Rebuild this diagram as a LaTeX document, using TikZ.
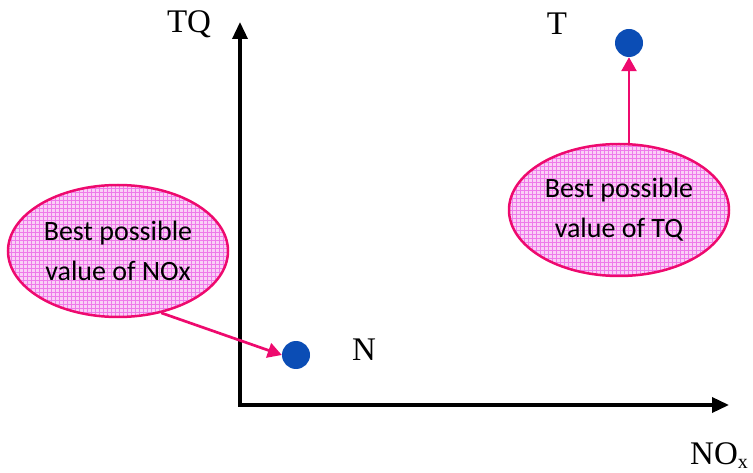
\documentclass[tikz,border=0pt]{standalone}
\usepackage{fontspec}
\setmainfont{Liberation Serif}
\newfontfamily\calib{Carlito}
\usetikzlibrary{arrows.meta,shapes.geometric}
\definecolor{bubblefill}{HTML}{FAD0F6}
\definecolor{bubblegrid}{HTML}{EE7AEA}
\definecolor{bubbleline}{HTML}{EE0A6E}
\definecolor{dotblue}{HTML}{0B4DB5}
\begin{document}
\begin{tikzpicture}[x=1pt,y=-1pt,
  axis/.style={line width=3.5pt,-{Triangle[length=17pt,width=15pt]}},
  bubble/.style={ellipse,draw=bubbleline,line width=2.5pt,fill=bubblefill,
    path picture={\draw[bubblegrid,line width=0.7pt,step=4pt] (path picture bounding box.south west) grid (path picture bounding box.north east);},
    minimum width=220pt,minimum height=132pt,inner sep=0pt,align=center,font=\calib\fontsize{28}{40}\selectfont},
  pinkarrow/.style={draw=bubbleline,line width=2.7pt,-{Triangle[length=14pt,width=15pt]}},
  pt/.style={circle,fill=dotblue,minimum width=27pt,minimum height=28pt,inner sep=0pt},
  lbl/.style={font=\fontsize{33}{36}\selectfont,inner sep=0pt}]
\useasboundingbox (0,0) rectangle (753,473);
\coordinate (O) at (240,405);
\coordinate (Ytop) at (240,22);
\coordinate (Xend) at (729,405);
\draw[axis] (O) -- (Ytop);
\draw[axis] ([xshift=-1.75pt]O) -- (Xend);
\node[lbl] (tq) at (189,24) {TQ};
\node[lbl] (tl) at (557,24) {T};
\node[lbl] (nl) at (364,350) {N};
\node[lbl,anchor=base west] (nox) at (690,464) {NO\raisebox{-4pt}{\fontsize{20}{20}\selectfont x}};
\node[pt] (dn) at (296,355) {};
\node[pt] (dt) at (629,43) {};
\node[bubble] (bl) at (118,251) {Best possible\\value of NOx};
\node[bubble] (br) at (619,210) {Best possible\\value of TQ};
\draw[pinkarrow] (bl.-55) -- (dn.west);
\draw[pinkarrow] (br.north -| dt) -- (dt.south);
\end{tikzpicture}
\end{document}
